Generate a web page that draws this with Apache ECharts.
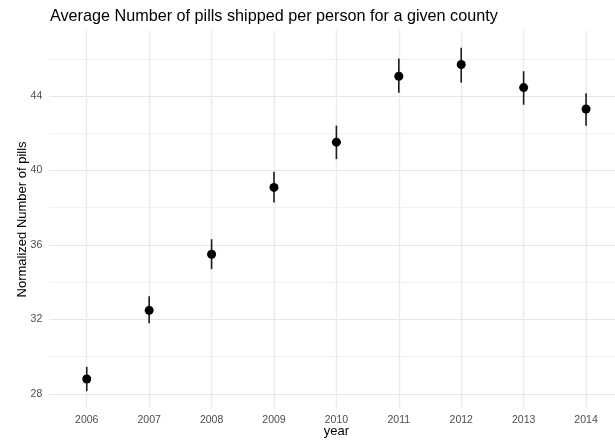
<!DOCTYPE html>
<html>
<head>
<meta charset="utf-8">
<script src="https://cdn.jsdelivr.net/npm/echarts@6/dist/echarts.min.js"></script>
<style>
html,body{margin:0;padding:0;background:#fff;}
#chart{width:615px;height:441px;}
</style>
</head>
<body>
<div id="chart"></div>
<script>
// Data
const years = [2006, 2007, 2008, 2009, 2010, 2011, 2012, 2013, 2014];
const meanPills = [28.80, 32.49, 35.50, 39.09, 41.52, 45.06, 45.69, 44.45, 43.30];
const lowerPills = [28.15, 31.79, 34.70, 38.28, 40.61, 44.18, 44.72, 43.53, 42.40];
const upperPills = [29.45, 33.24, 36.31, 39.93, 42.41, 46.01, 46.59, 45.33, 44.15];
const yTickLabels = [28, 32, 36, 40, 44];

const chart = echarts.init(document.getElementById('chart'), null, {renderer: 'canvas'});
const FONT = 'Liberation Sans, Arial, sans-serif';

const pointData = years.map((y, i) => [y, meanPills[i]]);
const barData = years.map((y, i) => [y, lowerPills[i], upperPills[i]]);

// ggplot-like expansion
const xMin = years[0] - 0.6, xMax = years[years.length - 1] + 0.6;
const lo = Math.min(...lowerPills), hi = Math.max(...upperPills);
const yMin = lo - 0.05 * (hi - lo), yMax = hi + 0.05 * (hi - lo);

chart.setOption({
  animation: false,
  backgroundColor: '#ffffff',
  title: {
    text: 'Average Number of pills shipped per person for a given county',
    left: 45, top: 4,
    textStyle: {fontFamily: FONT, fontSize: 16.2, fontWeight: 'normal', color: '#000'}
  },
  grid: {left: 49.3, right: -8.5, top: 30.6, bottom: 32.7, containLabel: false, outerBoundsMode: 'none'},
  xAxis: {
    type: 'value', min: xMin, max: xMax, splitNumber: 9,
    name: 'year', nameLocation: 'middle', nameGap: 17, nameMoveOverlap: false,
    nameTextStyle: {fontFamily: FONT, fontSize: 13, color: '#000'},
    axisLine: {show: false}, axisTick: {show: false},
    axisLabel: {
      showMinLabel: false, showMaxLabel: false, margin: 6,
      fontFamily: FONT, fontSize: 10.5, color: '#4D4D4D',
      formatter: v => (Number.isInteger(v) && years.includes(v)) ? String(v) : ''
    },
    splitLine: {show: true, showMinLine: false, showMaxLine: false, lineStyle: {color: '#EBEBEB', width: 1.4}}
  },
  yAxis: {
    type: 'value', min: yMin, max: yMax, splitNumber: 10,
    name: 'Normalized Number of pills', nameLocation: 'middle', nameGap: 20, nameRotate: 90, nameMoveOverlap: false,
    nameTextStyle: {fontFamily: FONT, fontSize: 13, color: '#000'},
    axisLine: {show: false}, axisTick: {show: false},
    axisLabel: {
      showMinLabel: false, showMaxLabel: false, margin: 7,
      fontFamily: FONT, fontSize: 10.5, color: '#4D4D4D',
      formatter: v => yTickLabels.includes(Math.round(v * 1000) / 1000) ? String(Math.round(v)) : ''
    },
    splitLine: {show: true, showMinLine: false, showMaxLine: false, lineStyle: {color: ['#E6E6E6', '#F2F2F2'], width: 1.2}}
  },
  series: [
    {
      type: 'custom',
      data: barData,
      z: 3,
      renderItem: function (params, api) {
        const p1 = api.coord([api.value(0), api.value(1)]);
        const p2 = api.coord([api.value(0), api.value(2)]);
        return {
          type: 'line',
          shape: {x1: p1[0], y1: p1[1], x2: p2[0], y2: p2[1]},
          style: {stroke: '#1a1a1a', lineWidth: 1.6}
        };
      }
    },
    {
      type: 'scatter',
      data: pointData,
      symbol: 'circle',
      symbolSize: 9,
      z: 4,
      itemStyle: {color: '#000', opacity: 1}
    }
  ]
});
</script>
</body>
</html>
